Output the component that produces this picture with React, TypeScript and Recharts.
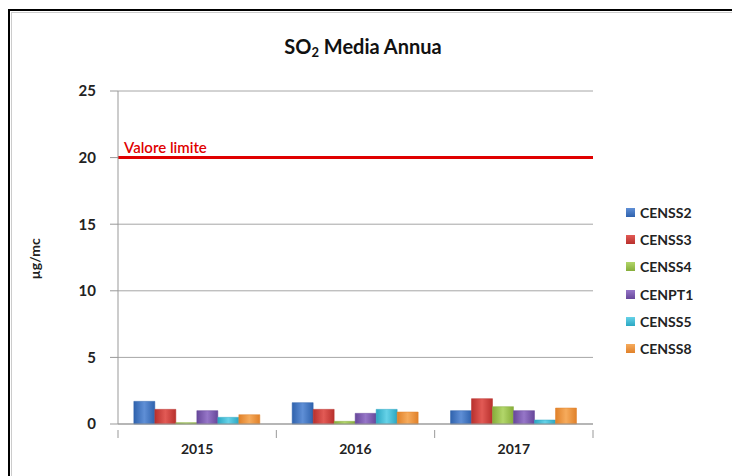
import { BarChart, Bar, XAxis, YAxis, CartesianGrid, ReferenceLine } from 'recharts';

const years = ['2015', '2016', '2017'];
const CENSS2 = [1.7, 1.6, 1.0];
const CENSS3 = [1.1, 1.1, 1.9];
const CENSS4 = [0.1, 0.2, 1.3];
const CENPT1 = [1.0, 0.8, 1.0];
const CENSS5 = [0.5, 1.1, 0.3];
const CENSS8 = [0.7, 0.9, 1.2];
const yTicks = [0, 5, 10, 15, 20, 25];
const limitValue = 20;

const SERIES = [
  { key: 'CENSS2', values: CENSS2, color: '#2f62ad', light: '#5f8fd6' },
  { key: 'CENSS3', values: CENSS3, color: '#b8302d', light: '#e25a55' },
  { key: 'CENSS4', values: CENSS4, color: '#86ad3a', light: '#b2d66a' },
  { key: 'CENPT1', values: CENPT1, color: '#67479a', light: '#9676c8' },
  { key: 'CENSS5', values: CENSS5, color: '#2ba7c2', light: '#66d2e8' },
  { key: 'CENSS8', values: CENSS8, color: '#e0812a', light: '#f6ab5c' },
];

const data = years.map((y, i) => {
  const row: any = { year: y };
  SERIES.forEach((s) => { row[s.key] = s.values[i]; });
  return row;
});

const FONT = 'Lato, "Open Sans", sans-serif';
const PLOT_LEFT = 118;
const PLOT_RIGHT = 593;
const BAND = (PLOT_RIGHT - PLOT_LEFT) / years.length;

function XTick(props: any) {
  const { x, y, payload, index } = props;
  return (
    <g>
      <line x1={x - BAND / 2} y1={y - 2} x2={x - BAND / 2} y2={y + 6} stroke="#999" />
      {index === years.length - 1 && (
        <line x1={x + BAND / 2} y1={y - 2} x2={x + BAND / 2} y2={y + 6} stroke="#999" />
      )}
      <text x={x} y={y + 22} textAnchor="middle" fontFamily={FONT} fontWeight={700} fontSize={14} fill="#222">
        {payload.value}
      </text>
    </g>
  );
}

function LimitLabel(props: any) {
  const { viewBox } = props;
  return (
    <text x={viewBox.x + 6} y={viewBox.y - 5} fontFamily={FONT} fontWeight={600} fontSize={15} fill="#e00000">
      Valore limite
    </text>
  );
}

function LegendBox() {
  return (
    <div style={{ position: 'absolute', left: 626, top: 199, fontFamily: FONT, fontWeight: 700, fontSize: 14, color: '#222' }}>
      {SERIES.map((s) => (
        <div key={s.key} style={{ display: 'flex', alignItems: 'center', height: 27.2 }}>
          <span style={{ width: 9, height: 9, marginRight: 5, background: `linear-gradient(180deg, ${s.light}, ${s.color})` }} />
          {s.key}
        </div>
      ))}
    </div>
  );
}

export default function App() {
  return (
    <div style={{ position: 'absolute', left: 0, top: 0, width: 732, height: 476, overflow: 'hidden', background: '#fff' }}>
      <div style={{ position: 'absolute', left: 8, top: 9, width: 740, height: 500, border: '2px solid #000' }}>
        <div style={{ position: 'absolute', left: 1, top: 1, right: 0, bottom: 0, borderLeft: '1px solid #ccc', borderTop: '1px solid #ccc' }} />
      </div>
      <div style={{ position: 'absolute', left: 0, width: 726, top: 34, textAlign: 'center', fontFamily: FONT, fontWeight: 700, fontSize: 20, color: '#111' }}>
        SO<sub style={{ fontSize: 13, verticalAlign: '-3px' }}>2</sub> Media Annua
      </div>
      <div style={{ position: 'absolute', left: 0, top: 0 }}>
        <BarChart
          width={732}
          height={476}
          data={data}
          margin={{ top: 91, right: 139, bottom: 22, left: 78 }}
          barCategoryGap="10%"
          barGap={0}
        >
          <defs>
            {SERIES.map((s) => (
              <linearGradient key={s.key} id={`g-${s.key}`} x1="0" y1="0" x2="1" y2="0">
                <stop offset="0%" stopColor={s.color} />
                <stop offset="50%" stopColor={s.light} />
                <stop offset="100%" stopColor={s.color} />
              </linearGradient>
            ))}
          </defs>
          <CartesianGrid vertical={false} stroke="#a6a6a6" />
          <XAxis
            dataKey="year"
            axisLine={{ stroke: '#999' }}
            tickLine={false}
            tick={<XTick />}
            height={30}
            interval={0}
          />
          <YAxis
            domain={[0, 25]}
            ticks={yTicks}
            width={40}
            axisLine={{ stroke: '#999' }}
            tickLine={{ stroke: '#999' }}
            tickSize={8}
            tickMargin={14}
            tick={{ fontFamily: FONT, fontWeight: 700, fontSize: 15, fill: '#222' }}
            label={{ value: 'µg/mc', angle: -90, position: 'insideLeft', dx: -48, dy: 22, style: { fontFamily: FONT, fontWeight: 700, fontSize: 14, fill: '#222' } }}
          />
          {SERIES.map((s) => (
            <Bar key={s.key} dataKey={s.key} fill={`url(#g-${s.key})`} stroke={s.color} strokeWidth={0.5} isAnimationActive={false} />
          ))}
          <ReferenceLine y={limitValue} stroke="#e00000" strokeWidth={3} label={<LimitLabel />} />
        </BarChart>
      </div>
      <LegendBox />
    </div>
  );
}
